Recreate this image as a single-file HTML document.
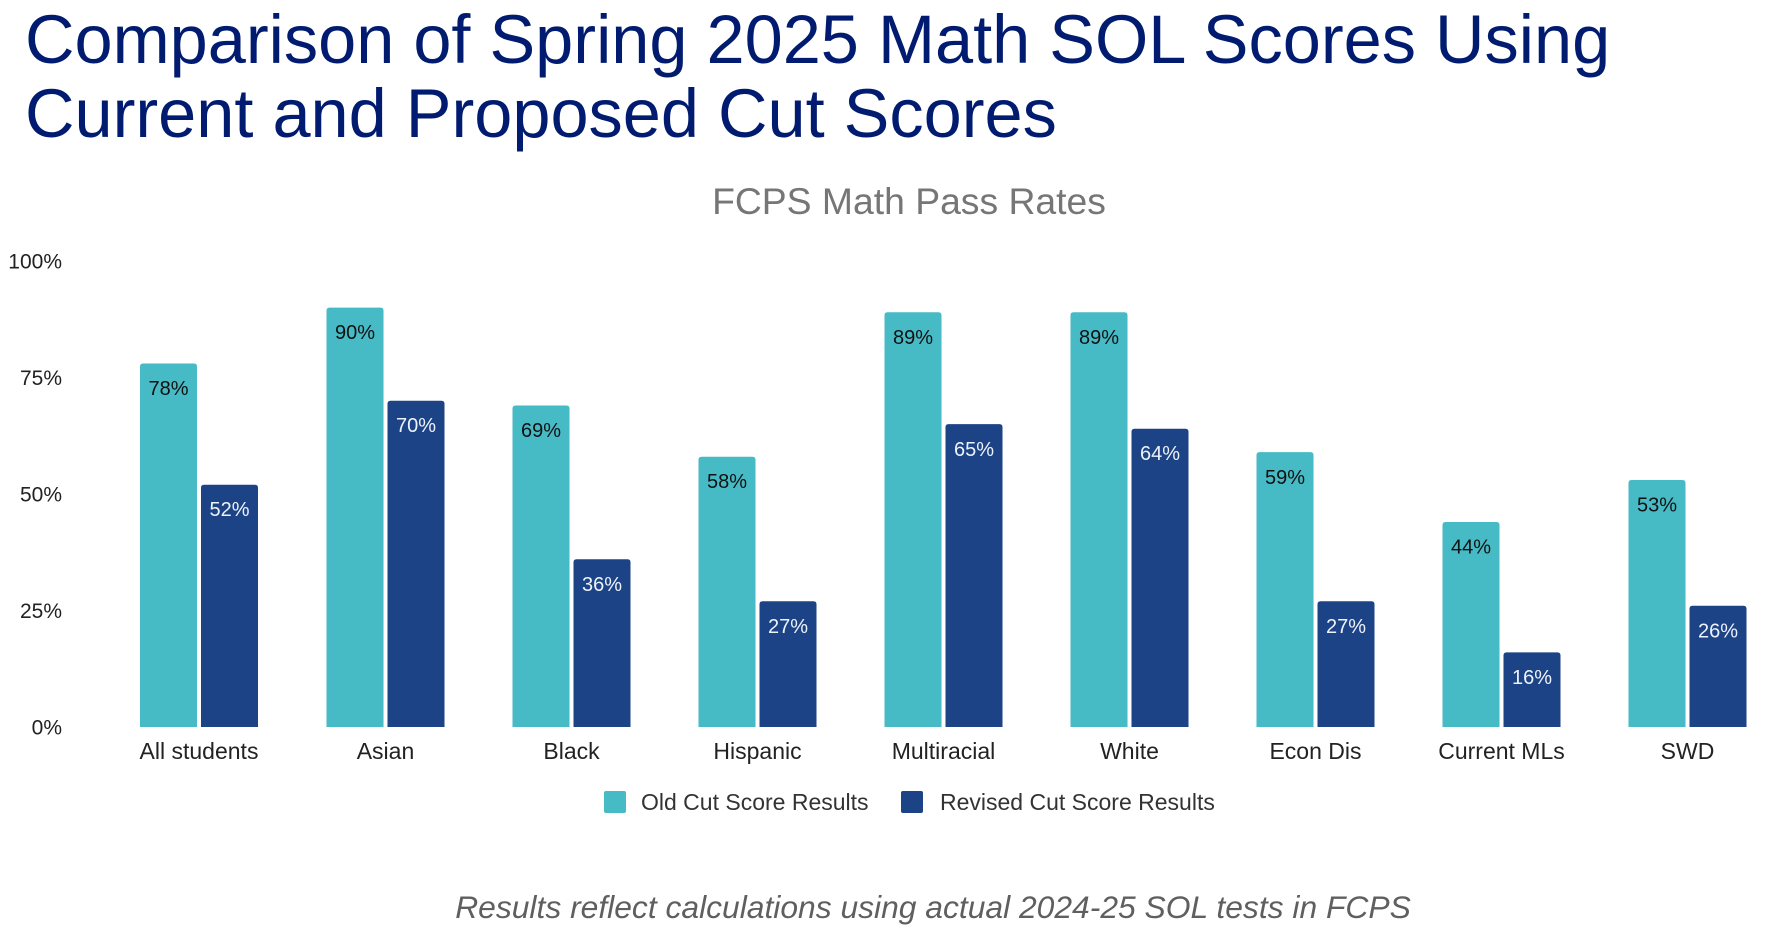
<!DOCTYPE html>
<html>
<head>
<meta charset="utf-8">
<style>
  html, body { margin:0; padding:0; background:#ffffff; }
  body { width:1769px; height:933px; overflow:hidden; }
  svg { display:block; }
</style>
</head>
<body>
<svg width="1769" height="933" viewBox="0 0 1769 933" xmlns="http://www.w3.org/2000/svg" font-family="'Liberation Sans', Arial, sans-serif">
  <!-- Title -->
  <text x="25" y="63" font-size="68.5" fill="#001b6f">Comparison of Spring 2025 Math SOL Scores Using</text>
  <text x="25" y="137" font-size="68.5" fill="#001b6f">Current and Proposed Cut Scores</text>

  <!-- Chart title -->
  <text x="909" y="214" font-size="37.3" fill="#767676" text-anchor="middle">FCPS Math Pass Rates</text>

  <!-- Y axis labels -->
  <g font-size="21" fill="#222" text-anchor="end">
    <text x="62" y="268.5">100%</text>
    <text x="62" y="385">75%</text>
    <text x="62" y="501.5">50%</text>
    <text x="62" y="618">25%</text>
    <text x="62" y="734.5">0%</text>
  </g>

  <!-- Legend -->
  <rect x="604" y="791" width="22" height="22" rx="2" fill="#46bac5"/>
  <text x="641" y="810" font-size="23" fill="#333">Old Cut Score Results</text>
  <rect x="901" y="791" width="22" height="22" rx="2" fill="#1c4386"/>
  <text x="940" y="810" font-size="23" fill="#333">Revised Cut Score Results</text>

  <!-- Footnote -->
  <text x="933" y="918" font-size="31.8" font-style="italic" fill="#5f5f5f" text-anchor="middle">Results reflect calculations using actual 2024-25 SOL tests in FCPS</text>

  <g>
    <!-- All students -->
    <path d="M140,727 V366.5 Q140,363.5 143,363.5 H194 Q197,363.5 197,366.5 V727 Z" fill="#46bac5"/>
    <path d="M201,727 V487.7 Q201,484.7 204,484.7 H255 Q258,484.7 258,487.7 V727 Z" fill="#1c4386"/>
    <text x="168.5" y="395" font-size="20" fill="#111" text-anchor="middle">78%</text>
    <text x="229.5" y="516" font-size="20" fill="#eef2fa" text-anchor="middle">52%</text>
    <text x="199" y="759" font-size="23" fill="#222" text-anchor="middle">All students</text>

    <!-- Asian -->
    <path d="M326.5,727 V310.6 Q326.5,307.6 329.5,307.6 H380.5 Q383.5,307.6 383.5,310.6 V727 Z" fill="#46bac5"/>
    <path d="M387.5,727 V403.8 Q387.5,400.8 390.5,400.8 H441.5 Q444.5,400.8 444.5,403.8 V727 Z" fill="#1c4386"/>
    <text x="355" y="339" font-size="20" fill="#111" text-anchor="middle">90%</text>
    <text x="416" y="432" font-size="20" fill="#eef2fa" text-anchor="middle">70%</text>
    <text x="385.5" y="759" font-size="23" fill="#222" text-anchor="middle">Asian</text>

    <!-- Black -->
    <path d="M512.5,727 V408.5 Q512.5,405.5 515.5,405.5 H566.5 Q569.5,405.5 569.5,408.5 V727 Z" fill="#46bac5"/>
    <path d="M573.5,727 V562.2 Q573.5,559.2 576.5,559.2 H627.5 Q630.5,559.2 630.5,562.2 V727 Z" fill="#1c4386"/>
    <text x="541" y="437" font-size="20" fill="#111" text-anchor="middle">69%</text>
    <text x="602" y="591" font-size="20" fill="#eef2fa" text-anchor="middle">36%</text>
    <text x="571.5" y="759" font-size="23" fill="#222" text-anchor="middle">Black</text>

    <!-- Hispanic -->
    <path d="M698.5,727 V459.7 Q698.5,456.7 701.5,456.7 H752.5 Q755.5,456.7 755.5,459.7 V727 Z" fill="#46bac5"/>
    <path d="M759.5,727 V604.2 Q759.5,601.2 762.5,601.2 H813.5 Q816.5,601.2 816.5,604.2 V727 Z" fill="#1c4386"/>
    <text x="727" y="488" font-size="20" fill="#111" text-anchor="middle">58%</text>
    <text x="788" y="633" font-size="20" fill="#eef2fa" text-anchor="middle">27%</text>
    <text x="757.5" y="759" font-size="23" fill="#222" text-anchor="middle">Hispanic</text>

    <!-- Multiracial -->
    <path d="M884.5,727 V315.3 Q884.5,312.3 887.5,312.3 H938.5 Q941.5,312.3 941.5,315.3 V727 Z" fill="#46bac5"/>
    <path d="M945.5,727 V427.1 Q945.5,424.1 948.5,424.1 H999.5 Q1002.5,424.1 1002.5,427.1 V727 Z" fill="#1c4386"/>
    <text x="913" y="344" font-size="20" fill="#111" text-anchor="middle">89%</text>
    <text x="974" y="456" font-size="20" fill="#eef2fa" text-anchor="middle">65%</text>
    <text x="943.5" y="759" font-size="23" fill="#222" text-anchor="middle">Multiracial</text>

    <!-- White -->
    <path d="M1070.5,727 V315.3 Q1070.5,312.3 1073.5,312.3 H1124.5 Q1127.5,312.3 1127.5,315.3 V727 Z" fill="#46bac5"/>
    <path d="M1131.5,727 V431.8 Q1131.5,428.8 1134.5,428.8 H1185.5 Q1188.5,428.8 1188.5,431.8 V727 Z" fill="#1c4386"/>
    <text x="1099" y="344" font-size="20" fill="#111" text-anchor="middle">89%</text>
    <text x="1160" y="460" font-size="20" fill="#eef2fa" text-anchor="middle">64%</text>
    <text x="1129.5" y="759" font-size="23" fill="#222" text-anchor="middle">White</text>

    <!-- Econ Dis -->
    <path d="M1256.5,727 V455.1 Q1256.5,452.1 1259.5,452.1 H1310.5 Q1313.5,452.1 1313.5,455.1 V727 Z" fill="#46bac5"/>
    <path d="M1317.5,727 V604.2 Q1317.5,601.2 1320.5,601.2 H1371.5 Q1374.5,601.2 1374.5,604.2 V727 Z" fill="#1c4386"/>
    <text x="1285" y="484" font-size="20" fill="#111" text-anchor="middle">59%</text>
    <text x="1346" y="633" font-size="20" fill="#eef2fa" text-anchor="middle">27%</text>
    <text x="1315.5" y="759" font-size="23" fill="#222" text-anchor="middle">Econ Dis</text>

    <!-- Current MLs -->
    <path d="M1442.5,727 V525 Q1442.5,522 1445.5,522 H1496.5 Q1499.5,522 1499.5,525 V727 Z" fill="#46bac5"/>
    <path d="M1503.5,727 V655.4 Q1503.5,652.4 1506.5,652.4 H1557.5 Q1560.5,652.4 1560.5,655.4 V727 Z" fill="#1c4386"/>
    <text x="1471" y="553.5" font-size="20" fill="#111" text-anchor="middle">44%</text>
    <text x="1532" y="684" font-size="20" fill="#eef2fa" text-anchor="middle">16%</text>
    <text x="1501.5" y="759" font-size="23" fill="#222" text-anchor="middle">Current MLs</text>

    <!-- SWD -->
    <path d="M1628.5,727 V483 Q1628.5,480 1631.5,480 H1682.5 Q1685.5,480 1685.5,483 V727 Z" fill="#46bac5"/>
    <path d="M1689.5,727 V608.8 Q1689.5,605.8 1692.5,605.8 H1743.5 Q1746.5,605.8 1746.5,608.8 V727 Z" fill="#1c4386"/>
    <text x="1657" y="511.5" font-size="20" fill="#111" text-anchor="middle">53%</text>
    <text x="1718" y="637.5" font-size="20" fill="#eef2fa" text-anchor="middle">26%</text>
    <text x="1687.5" y="759" font-size="23" fill="#222" text-anchor="middle">SWD</text>
  </g>
</svg>
</body>
</html>
